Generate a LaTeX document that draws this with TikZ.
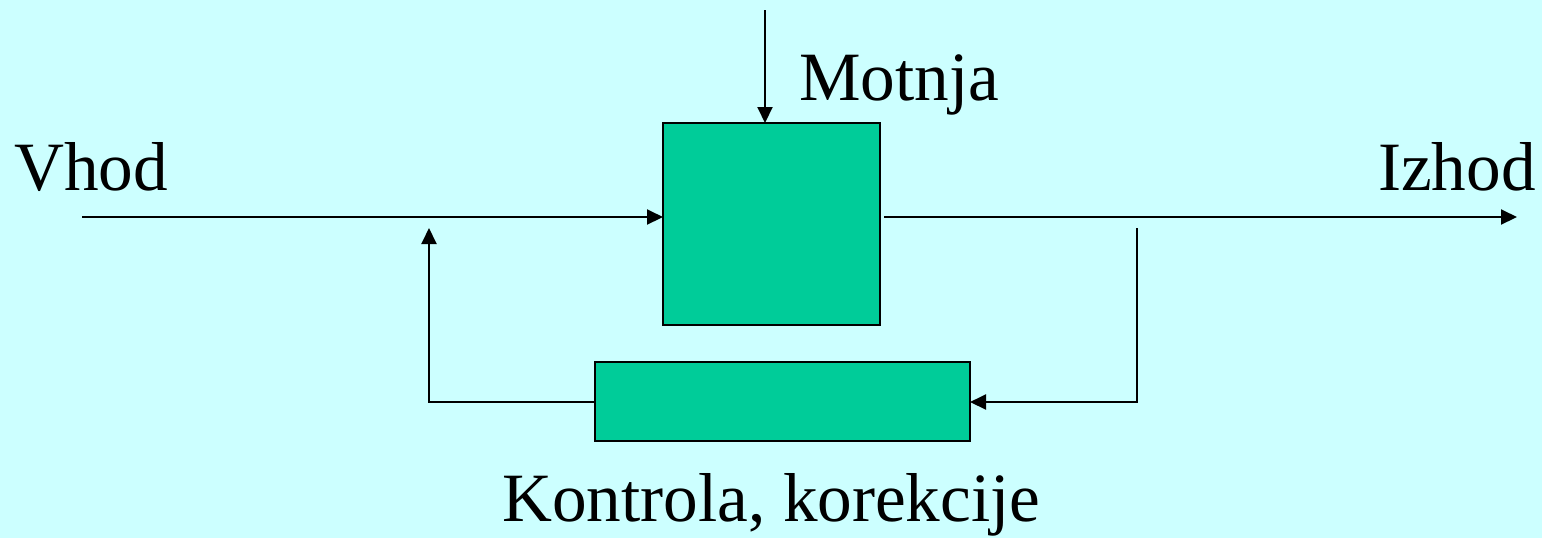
\documentclass[tikz,border=0pt]{standalone}
\usepackage{fontspec}
\setmainfont{Liberation Serif}
\usetikzlibrary{arrows.meta}
\definecolor{bg}{HTML}{CCFFFF}
\definecolor{boxfill}{HTML}{00CC99}
\begin{document}
\begin{tikzpicture}[x=0.5pt,y=-0.5pt,
  blk/.style={draw=black,line width=1.2pt,fill=boxfill,inner sep=0pt,outer sep=0pt},
  conn/.style={line width=1pt,-{Triangle[length=8pt,width=7.5pt]}},
  plain/.style={line width=1pt},
  lbl/.style={font=\fontsize{34.6}{40}\selectfont,inner sep=0pt}]
\fill[bg] (0,0) rectangle (1542,538);
\useasboundingbox (0,0) rectangle (1542,538);
% boxes
\node[blk,minimum width=108.5pt,minimum height=101pt] (proc) at (771.5,224) {};
\node[blk,minimum width=187.5pt,minimum height=39.5pt] (ctrl) at (782.5,401.5) {};
% coordinates
\coordinate (mtop) at (765,10);
\coordinate (vin) at (82,217);
\coordinate (oS) at (884,217);
\coordinate (oE) at (1517,217);
\coordinate (fbR) at (1137,228);
\coordinate (fbRc) at (1137,402);
\coordinate (fbLc) at (429,402);
\coordinate (fbL) at (429,228);
% connectors
\draw[conn] (mtop) -- (mtop |- proc.north);
\draw[conn] (vin) -- (vin -| proc.west);
\draw[conn] (oS) -- (oE);
\draw[conn] (fbR) -- (fbRc) -- (ctrl.east |- fbRc);
\draw[conn] (ctrl.west |- fbLc) -- (fbLc) -- (fbL);
% labels
\node[lbl,anchor=base west] (tvhod) at (14,190) {Vhod};
\node[lbl,anchor=base east] (tizhod) at (1536,190) {Izhod};
\node[lbl,anchor=base west] (tmot) at (799,100) {Motnja};
\node[lbl,anchor=base west] (tkon) at (502,521) {Kontrola, korekcije};
\end{tikzpicture}
\end{document}
